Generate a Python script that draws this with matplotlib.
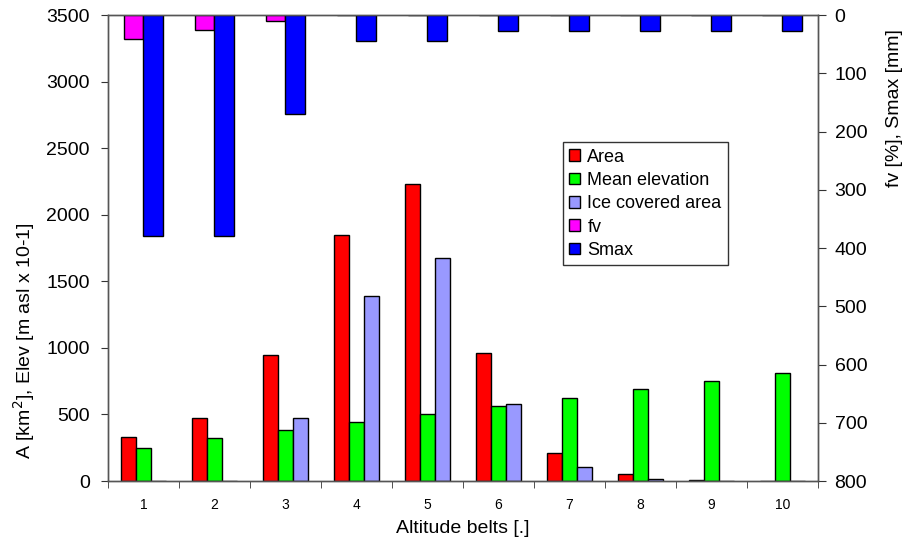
import numpy as np
import matplotlib
matplotlib.use('Agg')
import matplotlib.pyplot as plt

plt.rcParams['font.family'] = ['Liberation Sans', 'DejaVu Sans']

belts = [1, 2, 3, 4, 5, 6, 7, 8, 9, 10]
area = [330, 470, 950, 1850, 2230, 965, 210, 55, 5, 0]
elevation = [250, 320, 380, 445, 505, 560, 625, 690, 750, 810]
ice_area = [0, 0, 475, 1390, 1675, 580, 105, 12, 0, 0]
fv = [42, 25, 10, 0, 0, 0, 0, 0, 0, 0]
smax = [380, 380, 170, 45, 45, 28, 28, 28, 28, 28]

x = np.array(belts)

fig = plt.figure(figsize=(9.02, 5.44), dpi=100)
ax = fig.add_axes([0.1197, 0.1158, 0.787, 0.8566])
ax2 = ax.twinx()

# bars on the left axis
w = 0.21
b1 = ax.bar(x - w, area, w, color='#FF0000', edgecolor='black', linewidth=1, label='Area')
b2 = ax.bar(x, elevation, w, color='#00FF00', edgecolor='black', linewidth=1, label='Mean elevation')
b3 = ax.bar(x + w, ice_area, w, color='#9999FF', edgecolor='black', linewidth=1, label='Ice covered area')

# bars on the right (inverted) axis
w2 = 0.28
b4 = ax2.bar(x - w2 / 2, fv, w2, color='#FF00FF', edgecolor='black', linewidth=1, label='fv')
b5 = ax2.bar(x + w2 / 2, smax, w2, color='#0000FF', edgecolor='black', linewidth=1, label='Smax')

ax.set_xlim(0.5, 10.5)
ax.set_ylim(0, 3500)
ax.set_yticks(range(0, 3501, 500))
ax2.set_ylim(800, 0)
ax2.set_yticks(range(0, 801, 100))

ax.set_xticks(x)
ax.set_xticklabels([str(b) for b in belts])
ax.set_xticks(np.arange(0.5, 11, 1), minor=True)
ax.tick_params(axis='x', which='major', length=0, pad=12, labelsize=10)
ax.tick_params(axis='x', which='minor', length=5, direction='out', color='#333333')
ax.tick_params(axis='y', length=5, pad=8, labelsize=14, color='#333333')
ax2.tick_params(axis='y', length=6, pad=6, labelsize=14, color='#333333')

for a in (ax, ax2):
    for s in a.spines.values():
        s.set_color('#555555')
        s.set_linewidth(1)

ax.set_xlabel('Altitude belts [.]', fontsize=14, labelpad=6)
ax.set_ylabel('A [km$^2$], Elev [m asl x 10-1]', fontsize=14)
ax.yaxis.set_label_coords(-0.1, 0.30)
ax2.set_ylabel('fv [%], Smax [mm]', fontsize=14)
ax2.yaxis.set_label_coords(1.096, 0.80)

handles = [b1, b2, b3, b4, b5]
leg = ax2.legend(handles, [h.get_label() for h in handles], loc='upper left',
                 bbox_to_anchor=(0.641, 0.727), fontsize=13, frameon=True,
                 fancybox=False, edgecolor='black', handlelength=0.6,
                 handleheight=0.6, handletextpad=0.4, labelspacing=0.35,
                 borderpad=0.35, borderaxespad=0)
leg.get_frame().set_linewidth(1)

fig.savefig('out.png', dpi=100)
